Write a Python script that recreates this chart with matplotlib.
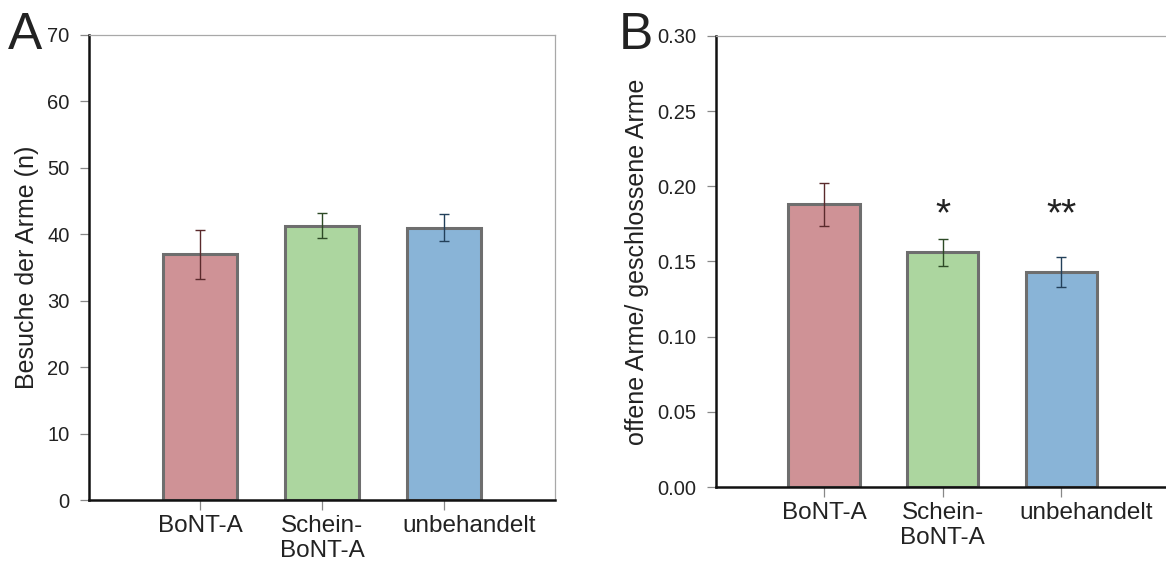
import matplotlib
matplotlib.use("Agg")
import matplotlib.pyplot as plt
import matplotlib.transforms as mtransforms
import numpy as np

plt.rcParams['font.family'] = ['Liberation Sans', 'DejaVu Sans']

# daten
gruppen = ['BoNT-A', 'Schein-\nBoNT-A', 'unbehandelt']
besuche = [37.0, 41.3, 41.0]
besuche_err = [3.7, 1.9, 2.0]
verhaeltnis = [0.188, 0.156, 0.143]
verhaeltnis_err = [0.0145, 0.009, 0.0098]
sterne = ['', '*', '**']

farben = ['#cf9296', '#acd69f', '#89b4d7']
fehlerfarben = ['#5a2a2c', '#2d4a26', '#23405a']
x = np.arange(1, 4)

fig = plt.figure(figsize=(11.66, 5.61), dpi=100)
axA = fig.add_axes([0.0763, 0.1087, 0.3997, 0.829])
axB = fig.add_axes([0.614, 0.1319, 0.389, 0.804])


def balken(ax, werte, fehler):
    ax.bar(x, werte, width=0.6, color=farben, edgecolor='#6e6e6e', linewidth=2.2, zorder=2)
    for i in range(3):
        ax.errorbar(x[i], werte[i], yerr=fehler[i], fmt='none', ecolor=fehlerfarben[i],
                    elinewidth=1.0, capsize=3.5, capthick=1.0, zorder=3)
    ax.set_xlim(0.09, 3.91)
    ax.set_xticks(x)
    ax.set_xticklabels(gruppen, fontsize=17.5, color='#222222', linespacing=1.15)
    for s in ['top', 'right']:
        ax.spines[s].set_color('#a8a8a8')
        ax.spines[s].set_linewidth(0.9)
    for s in ['left', 'bottom']:
        ax.spines[s].set_color('#111111')
        ax.spines[s].set_linewidth(1.8)
    ax.tick_params(axis='y', length=6.5, width=0.9, color='#888888', labelsize=14.5,
                   labelcolor='#222222', pad=7.5)
    ax.tick_params(axis='x', length=7, width=0.9, color='#888888', pad=4)
    # letzte beschriftung etwas nach rechts, wie im original
    lab = ax.get_xticklabels()[2]
    lab.set_transform(lab.get_transform() +
                      mtransforms.ScaledTranslation(0.25, 0, fig.dpi_scale_trans))


balken(axA, besuche, besuche_err)
axA.set_ylim(0, 70)
axA.set_yticks(np.arange(0, 71, 10))
axA.set_ylabel('Besuche der Arme (n)', fontsize=18, color='#222222', labelpad=6)

balken(axB, verhaeltnis, verhaeltnis_err)
axB.set_ylim(0, 0.30)
axB.set_yticks(np.arange(0, 0.31, 0.05))
axB.set_yticklabels(['%.2f' % v for v in np.arange(0, 0.31, 0.05)])
axB.set_ylabel('offene Arme/ geschlossene Arme', fontsize=18, color='#222222', labelpad=6)
for i in range(3):
    if sterne[i]:
        axB.text(x[i], 0.174, sterne[i], ha='center', va='baseline', fontsize=28, color='#222222')

fig.text(0.007, 0.912, 'A', fontsize=37, color='#222222')
fig.text(0.531, 0.912, 'B', fontsize=37, color='#222222')

fig.savefig('out.png', dpi=100)
